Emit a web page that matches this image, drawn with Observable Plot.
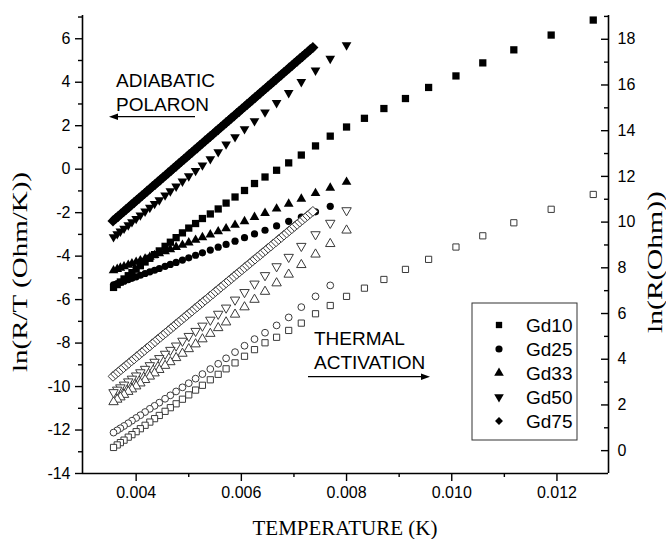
<!DOCTYPE html>
<html><head><meta charset="utf-8">
<script src="https://cdn.jsdelivr.net/npm/d3@7"></script>
<script src="https://cdn.jsdelivr.net/npm/@observablehq/plot@0.6"></script>
<style>body{margin:0;background:#fff}#chart{width:666px;height:539px}</style>
</head><body><div id="chart"></div>
<script>
// ---- data (x = temperature axis value, y = ln(R/T) filled, r = ln(R) hollow) ----
const seriesNames = ["Gd10", "Gd25", "Gd33", "Gd50", "Gd75"];

const xGd10 = [0.01269, 0.01189, 0.01118, 0.01059, 0.01008, 0.00956, 0.00912, 0.00871, 0.00834,
  0.00800, 0.00769, 0.00741, 0.00714, 0.00690, 0.00667, 0.00645, 0.00625, 0.00606, 0.00588, 0.00571,
  0.00556, 0.00541, 0.00526, 0.00513, 0.00500, 0.00488, 0.00476, 0.00465, 0.00455, 0.00444, 0.00435,
  0.00426, 0.00417, 0.00408, 0.00400, 0.00392, 0.00385, 0.00377, 0.00370, 0.00364, 0.00357];
const yGd10 = [6.86, 6.17, 5.49, 4.89, 4.29, 3.76, 3.25, 2.79, 2.34,
  1.94, 1.52, 1.07, 0.65, 0.29, -0.05, -0.36, -0.66, -0.98, -1.28, -1.56,
  -1.83, -2.06, -2.27, -2.50, -2.71, -2.93, -3.15, -3.36, -3.55, -3.76, -3.93,
  -4.10, -4.27, -4.44, -4.60, -4.76, -4.90, -5.05, -5.19, -5.31, -5.44];
const rGd10 = [11.21, 10.56, 9.97, 9.40, 8.91, 8.37, 7.93, 7.49, 7.11,
  6.75, 6.35, 5.99, 5.58, 5.26, 4.96, 4.72, 4.42, 4.13, 3.84, 3.58,
  3.34, 3.10, 2.86, 2.65, 2.44, 2.25, 2.05, 1.88, 1.72, 1.54, 1.40,
  1.25, 1.11, 0.96, 0.83, 0.70, 0.59, 0.46, 0.35, 0.25, 0.14];

const xGd25 = [0.00769, 0.00741, 0.00714, 0.00690, 0.00667, 0.00645, 0.00625, 0.00606, 0.00588, 0.00571,
  0.00556, 0.00541, 0.00526, 0.00513, 0.00500, 0.00488, 0.00476, 0.00465, 0.00455, 0.00444, 0.00435,
  0.00426, 0.00417, 0.00408, 0.00400, 0.00392, 0.00385, 0.00377, 0.00370, 0.00364, 0.00357];
const yGd25 = [-1.71, -1.96, -2.20, -2.40, -2.61, -2.81, -2.98, -3.15, -3.31, -3.46,
  -3.59, -3.72, -3.85, -3.96, -4.08, -4.18, -4.29, -4.38, -4.47, -4.57, -4.65,
  -4.72, -4.80, -4.88, -4.95, -5.02, -5.08, -5.15, -5.21, -5.26, -5.32];
const rGd25 = [7.23, 6.75, 6.28, 5.83, 5.48, 5.16, 4.88, 4.59, 4.31, 4.04,
  3.80, 3.57, 3.35, 3.15, 2.95, 2.77, 2.59, 2.42, 2.27, 2.10, 1.96,
  1.83, 1.69, 1.55, 1.43, 1.31, 1.20, 1.08, 0.98, 0.89, 0.79];

const xGd33 = [0.00800, 0.00769, 0.00741, 0.00714, 0.00690, 0.00667, 0.00645, 0.00625, 0.00606, 0.00588, 0.00571,
  0.00556, 0.00541, 0.00526, 0.00513, 0.00500, 0.00488, 0.00476, 0.00465, 0.00455, 0.00444, 0.00435,
  0.00426, 0.00417, 0.00408, 0.00400, 0.00392, 0.00385, 0.00377, 0.00370, 0.00364, 0.00357];
const yGd33 = [-0.59, -0.86, -1.11, -1.37, -1.60, -1.82, -2.02, -2.21, -2.40, -2.57, -2.73,
  -2.87, -3.01, -3.14, -3.26, -3.38, -3.49, -3.59, -3.69, -3.78, -3.88, -3.96,
  -4.04, -4.12, -4.20, -4.27, -4.34, -4.41, -4.48, -4.54, -4.60, -4.66];
const rGd33 = [9.64, 9.05, 8.59, 8.13, 7.71, 7.33, 6.96, 6.61, 6.28, 5.96, 5.62,
  5.37, 5.12, 4.88, 4.66, 4.45, 4.25, 4.06, 3.88, 3.72, 3.54, 3.39,
  3.25, 3.10, 2.95, 2.82, 2.69, 2.58, 2.45, 2.34, 2.24, 2.13];

const xGd50 = [0.00800, 0.00769, 0.00741, 0.00714, 0.00690, 0.00667, 0.00645, 0.00625, 0.00606, 0.00588, 0.00571,
  0.00556, 0.00541, 0.00526, 0.00513, 0.00500, 0.00488, 0.00476, 0.00465, 0.00455, 0.00444, 0.00435,
  0.00426, 0.00417, 0.00408, 0.00400, 0.00392, 0.00385, 0.00377, 0.00370, 0.00364, 0.00357];
const yGd50 = [5.71, 5.09, 4.55, 4.02, 3.51, 3.05, 2.62, 2.22, 1.85, 1.48, 1.15,
  0.79, 0.47, 0.18, -0.07, -0.32, -0.56, -0.79, -1.01, -1.20, -1.42, -1.59,
  -1.77, -1.94, -2.12, -2.28, -2.43, -2.57, -2.73, -2.86, -2.98, -3.12];
const rGd50 = [10.51, 9.96, 9.46, 8.95, 8.47, 8.06, 7.67, 7.30, 6.93, 6.60, 6.25,
  5.98, 5.72, 5.46, 5.23, 5.01, 4.80, 4.59, 4.40, 4.23, 4.04, 3.88,
  3.73, 3.57, 3.42, 3.28, 3.14, 3.02, 2.88, 2.76, 2.66, 2.55];

const xGd75 = [0.00356, 0.00361, 0.00366, 0.00371, 0.00376, 0.00381, 0.00386, 0.00391, 0.00396, 0.00401,
  0.00406, 0.00411, 0.00416, 0.00421, 0.00426, 0.00431, 0.00436, 0.00441, 0.00446, 0.00451,
  0.00456, 0.00461, 0.00466, 0.00471, 0.00476, 0.00481, 0.00486, 0.00491, 0.00496, 0.00501,
  0.00506, 0.00511, 0.00516, 0.00521, 0.00526, 0.00531, 0.00536, 0.00541, 0.00546, 0.00551,
  0.00556, 0.00561, 0.00566, 0.00571, 0.00576, 0.00581, 0.00586, 0.00591, 0.00596, 0.00601,
  0.00606, 0.00611, 0.00616, 0.00621, 0.00626, 0.00631, 0.00636, 0.00641, 0.00646, 0.00651,
  0.00656, 0.00661, 0.00666, 0.00671, 0.00676, 0.00681, 0.00686, 0.00691, 0.00696, 0.00701,
  0.00706, 0.00711, 0.00716, 0.00721, 0.00726, 0.00731, 0.00736];
const yGd75 = [-2.38, -2.27, -2.17, -2.06, -1.96, -1.85, -1.75, -1.64, -1.54, -1.43,
  -1.33, -1.22, -1.12, -1.01, -0.91, -0.80, -0.70, -0.59, -0.49, -0.38,
  -0.28, -0.17, -0.07, 0.04, 0.14, 0.25, 0.35, 0.46, 0.56, 0.67,
  0.77, 0.88, 0.98, 1.09, 1.19, 1.30, 1.40, 1.51, 1.61, 1.72,
  1.82, 1.93, 2.03, 2.14, 2.24, 2.35, 2.45, 2.56, 2.66, 2.77,
  2.87, 2.98, 3.08, 3.19, 3.29, 3.40, 3.50, 3.61, 3.71, 3.82,
  3.92, 4.03, 4.13, 4.24, 4.34, 4.45, 4.55, 4.66, 4.76, 4.87,
  4.97, 5.08, 5.18, 5.29, 5.39, 5.50, 5.60];
const rGd75 = [3.25, 3.35, 3.44, 3.54, 3.63, 3.73, 3.82, 3.92, 4.01, 4.11,
  4.20, 4.30, 4.39, 4.49, 4.58, 4.68, 4.77, 4.87, 4.96, 5.06,
  5.15, 5.25, 5.34, 5.44, 5.53, 5.63, 5.72, 5.82, 5.91, 6.01,
  6.10, 6.20, 6.29, 6.39, 6.48, 6.58, 6.67, 6.77, 6.86, 6.96,
  7.05, 7.15, 7.24, 7.34, 7.43, 7.53, 7.62, 7.72, 7.81, 7.91,
  8.00, 8.10, 8.19, 8.29, 8.38, 8.48, 8.57, 8.67, 8.76, 8.86,
  8.95, 9.05, 9.14, 9.24, 9.33, 9.43, 9.52, 9.62, 9.71, 9.81,
  9.90, 10.00, 10.09, 10.19, 10.28, 10.38, 10.47];

const xTicks = [0.004, 0.006, 0.008, 0.010, 0.012];
const xMinorTicks = [0.005, 0.007, 0.009, 0.011];
const yLeftTicks = [-14, -12, -10, -8, -6, -4, -2, 0, 2, 4, 6];
const yLeftMinor = [-13, -11, -9, -7, -5, -3, -1, 1, 3, 5, 7];
const yRightTicks = [0, 2, 4, 6, 8, 10, 12, 14, 16, 18];
const yRightMinor = [1, 3, 5, 7, 9, 11, 13, 15, 17, 19];

const xDomain = [0.00298, 0.01298];
const yLeftDomain = [-14, 7.07];
const yRightDomain = [-1, 19.04];

// ---- build ----
const toLeft = d3.scaleLinear().domain(yRightDomain).range(yLeftDomain);
const xs = {Gd10: xGd10, Gd25: xGd25, Gd33: xGd33, Gd50: xGd50, Gd75: xGd75};
const ys = {Gd10: yGd10, Gd25: yGd25, Gd33: yGd33, Gd50: yGd50, Gd75: yGd75};
const rs = {Gd10: rGd10, Gd25: rGd25, Gd33: rGd33, Gd50: rGd50, Gd75: rGd75};
const style = {
  Gd10: {symbol: "square", r: 4.1, rh: 3.5, rotate: 0},
  Gd25: {symbol: "circle", r: 3.6, rh: 3.4, rotate: 0},
  Gd33: {symbol: "triangle", r: 3.6, rh: 3.5, rotate: 0},
  Gd50: {symbol: "triangle", r: 3.6, rh: 3.5, rotate: 180},
  Gd75: {symbol: "diamond2", r: 5.0, rh: 4.4, rotate: 0}
};
const filled = {}, hollow = {};
for (const s of seriesNames) {
  filled[s] = xs[s].map((x, i) => ({x, y: ys[s][i], series: s}));
  hollow[s] = xs[s].map((x, i) => ({x, y: toLeft(rs[s][i]), series: s}));
}

const marks = [];
for (const s of seriesNames) {
  marks.push(Plot.dot(filled[s], {x: "x", y: "y", symbol: () => style[s].symbol, r: style[s].r,
    fill: "black", stroke: "none", rotate: style[s].rotate}));
}
for (const s of seriesNames) {
  marks.push(Plot.dot(hollow[s], {x: "x", y: "y", symbol: () => style[s].symbol, r: style[s].rh,
    fill: "white", stroke: "#3a3a3a", strokeWidth: 1, rotate: style[s].rotate}));
}

const plot = Plot.plot({
  width: 666, height: 539,
  marginLeft: 82, marginRight: 58, marginTop: 15, marginBottom: 66,
  style: {fontFamily: "'Liberation Sans', Arial, sans-serif", fontSize: "16px", background: "white", color: "black"},
  x: {domain: xDomain},
  y: {domain: yLeftDomain},
  symbol: {type: "identity"},
  marks: [
    ...marks,
    Plot.ruleX([xDomain[0]], {stroke: "black", strokeWidth: 1.6}),
    Plot.ruleX([xDomain[1]], {stroke: "black", strokeWidth: 1.6}),
    Plot.ruleY([yLeftDomain[0]], {stroke: "black", strokeWidth: 1.6}),
    Plot.axisX({ticks: xTicks, tickFormat: d => d.toFixed(3), tickSize: 8, tickPadding: 5, strokeWidth: 1.4, fontSize: 16, label: null}),
    Plot.axisX({ticks: xMinorTicks, tickFormat: () => "", tickSize: 4, strokeWidth: 1.4, label: null}),
    Plot.axisY({ticks: yLeftTicks, tickFormat: d => String(d).replace("\u2212", "-"), tickSize: 7, tickPadding: 5, strokeWidth: 1.4, fontSize: 16, label: null}),
    Plot.axisY({ticks: yLeftMinor, tickFormat: () => "", tickSize: 4, strokeWidth: 1.4, label: null}),
    Plot.axisY({anchor: "right", ticks: yRightTicks.map(toLeft), tickFormat: d => String(Math.round(toLeft.invert(d))),
      tickSize: 8, insetRight: 8, tickPadding: 9, strokeWidth: 1.4, fontSize: 16, label: null}),
    Plot.axisY({anchor: "right", ticks: yRightMinor.map(toLeft), tickFormat: () => "",
      tickSize: 5, insetRight: 5, strokeWidth: 1.4, label: null})
  ]
});
document.getElementById("chart").appendChild(plot);

// ---- titles, annotations and legend ----
const svg = d3.select(plot);
const serif = "'Liberation Serif', 'Times New Roman', serif";
const sans = "'Liberation Sans', Arial, sans-serif";
svg.append("text").attr("x", 345).attr("y", 535).attr("text-anchor", "middle")
  .attr("font-family", serif).attr("font-size", 21).attr("fill", "black").text("TEMPERATURE (K)");
svg.append("text").attr("transform", "translate(27,272) rotate(-90)").attr("text-anchor", "middle")
  .attr("font-family", serif).attr("font-size", 21).attr("fill", "black")
  .attr("textLength", 200).attr("lengthAdjust", "spacingAndGlyphs").text("ln(R/T (Ohm/K))");
svg.append("text").attr("transform", "translate(662,262) rotate(-90)").attr("text-anchor", "middle")
  .attr("font-family", serif).attr("font-size", 21).attr("fill", "black")
  .attr("textLength", 142).attr("lengthAdjust", "spacingAndGlyphs").text("ln(R(Ohm))");

const ann = svg.append("g").attr("font-family", sans).attr("font-size", 19).attr("fill", "black").attr("text-anchor", "start");
ann.append("text").attr("x", 116).attr("y", 86.7).text("ADIABATIC");
ann.append("text").attr("x", 116).attr("y", 110.7).text("POLARON");
ann.append("line").attr("x1", 116).attr("x2", 195).attr("y1", 116.7).attr("y2", 116.7).attr("stroke", "black").attr("stroke-width", 1.3);
ann.append("path").attr("d", "M109,116.7L118,113.5L118,119.9Z").attr("fill", "black");
ann.append("text").attr("x", 314).attr("y", 345).text("THERMAL");
ann.append("text").attr("x", 314).attr("y", 368.5).text("ACTIVATION");
ann.append("line").attr("x1", 308).attr("x2", 422).attr("y1", 376.7).attr("y2", 376.7).attr("stroke", "black").attr("stroke-width", 1.3);
ann.append("path").attr("d", "M430,376.7L421,373.5L421,379.9Z").attr("fill", "black");

const leg = svg.append("g");
leg.append("rect").attr("x", 472).attr("y", 303).attr("width", 105).attr("height", 137)
  .attr("fill", "white").attr("stroke", "#333").attr("stroke-width", 1);
const legSym = {Gd10: d3.symbolSquare, Gd25: d3.symbolCircle, Gd33: d3.symbolTriangle, Gd50: d3.symbolTriangle, Gd75: d3.symbolDiamond2};
seriesNames.forEach((s, i) => {
  const cy = 325 + i * 24;
  leg.append("path").attr("d", d3.symbol(legSym[s], 40)())
    .attr("transform", `translate(499,${cy}) rotate(${style[s].rotate})`).attr("fill", "black");
  leg.append("text").attr("x", 526).attr("y", cy + 6.8).attr("text-anchor", "start").attr("font-family", sans).attr("font-size", 19)
    .attr("fill", "black").text(s);
});
</script>
</body></html>
